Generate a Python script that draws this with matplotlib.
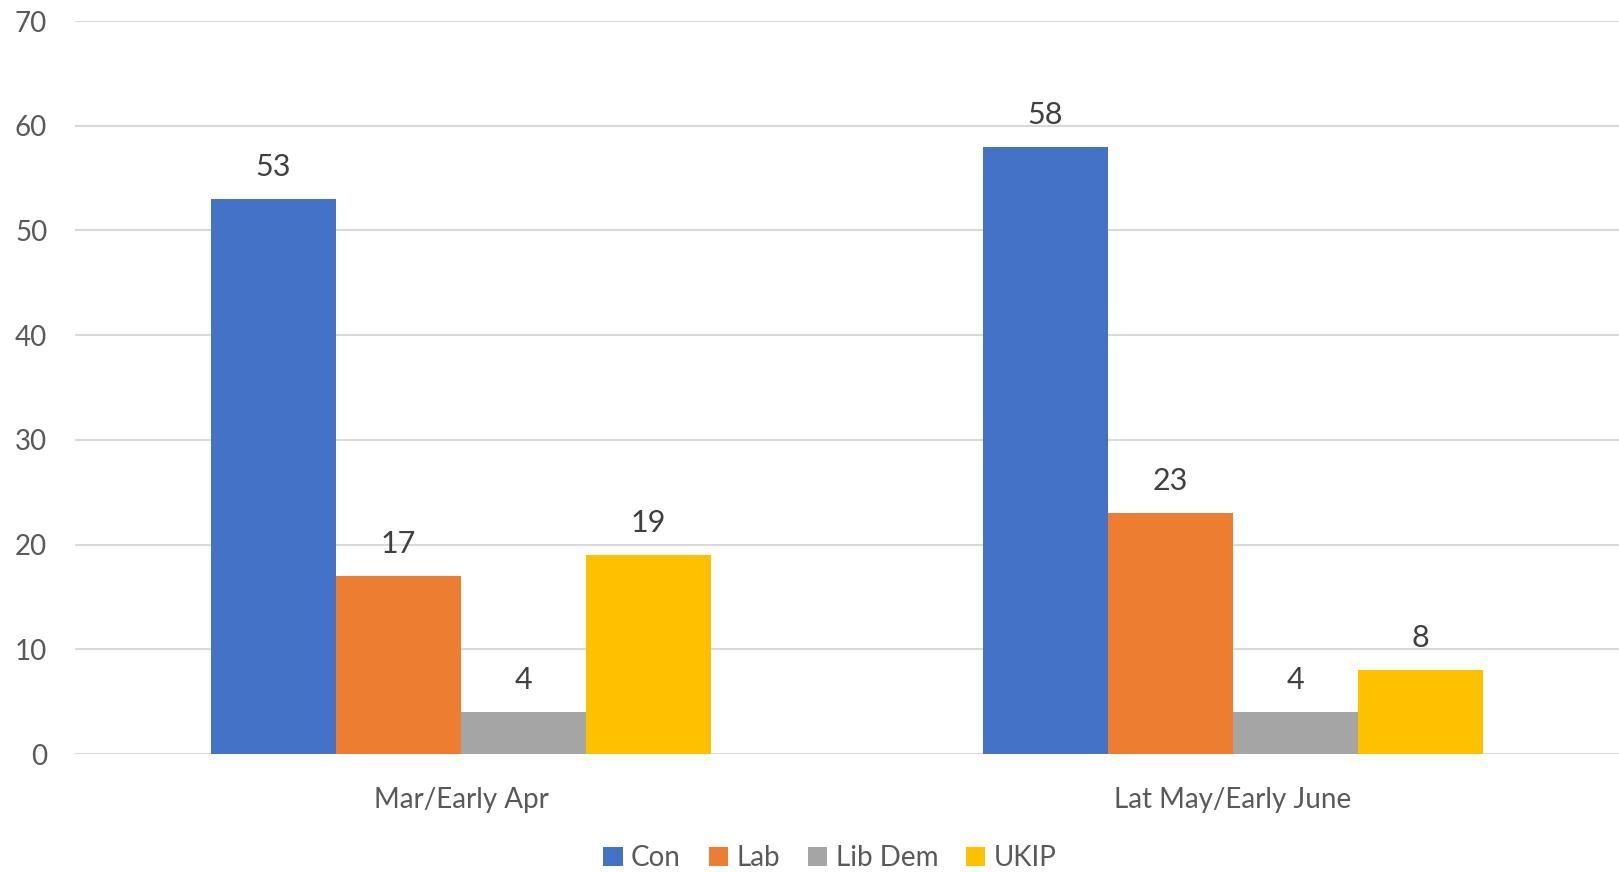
import numpy as np
import matplotlib.pyplot as plt

plt.rcParams['font.family'] = ['Lato', 'DejaVu Sans']

categories = ["Mar/Early Apr", "Lat May/Early June"]
parties = ["Con", "Lab", "Lib Dem", "UKIP"]
con = [53, 58]
lab = [17, 23]
libdem = [4, 4]
ukip = [19, 8]
colors = ["#4472C4", "#ED7D31", "#A5A5A5", "#FFC000"]

text_color = "#595959"

fig = plt.figure(figsize=(16.19, 8.72), dpi=100)
ax = fig.add_axes([75 / 1619, 1 - 754 / 872, 1 - 75 / 1619, (754 - 21) / 872])

x = np.arange(len(categories))
width = 0.162
series = [con, lab, libdem, ukip]
for i, (name, vals) in enumerate(zip(parties, series)):
    pos = x + (i - 1.5) * width
    bars = ax.bar(pos, vals, width, color=colors[i], label=name, zorder=3)
    ax.bar_label(bars, padding=13, fontsize=22, color="#404040")

ax.set_xlim(-0.5, 1.5)
ax.set_ylim(0, 70)
ax.set_yticks(range(0, 71, 10))
ax.grid(axis="y", color="#D9D9D9", linewidth=1.5, zorder=0)
for s in ax.spines.values():
    s.set_visible(False)
ax.tick_params(axis="both", length=0, labelsize=20, labelcolor=text_color)
ax.tick_params(axis="y", pad=20)
ax.tick_params(axis="x", pad=24)
ax.set_xticks(x)
ax.set_xticklabels(categories)

fig.legend(loc="center", bbox_to_anchor=(830 / 1619, 1 - 858 / 872), ncol=4,
           frameon=False, fontsize=20, handlelength=0.7, handleheight=0.7,
           handletextpad=0.3, columnspacing=1.0, labelcolor=text_color)

plt.savefig("out.png")
